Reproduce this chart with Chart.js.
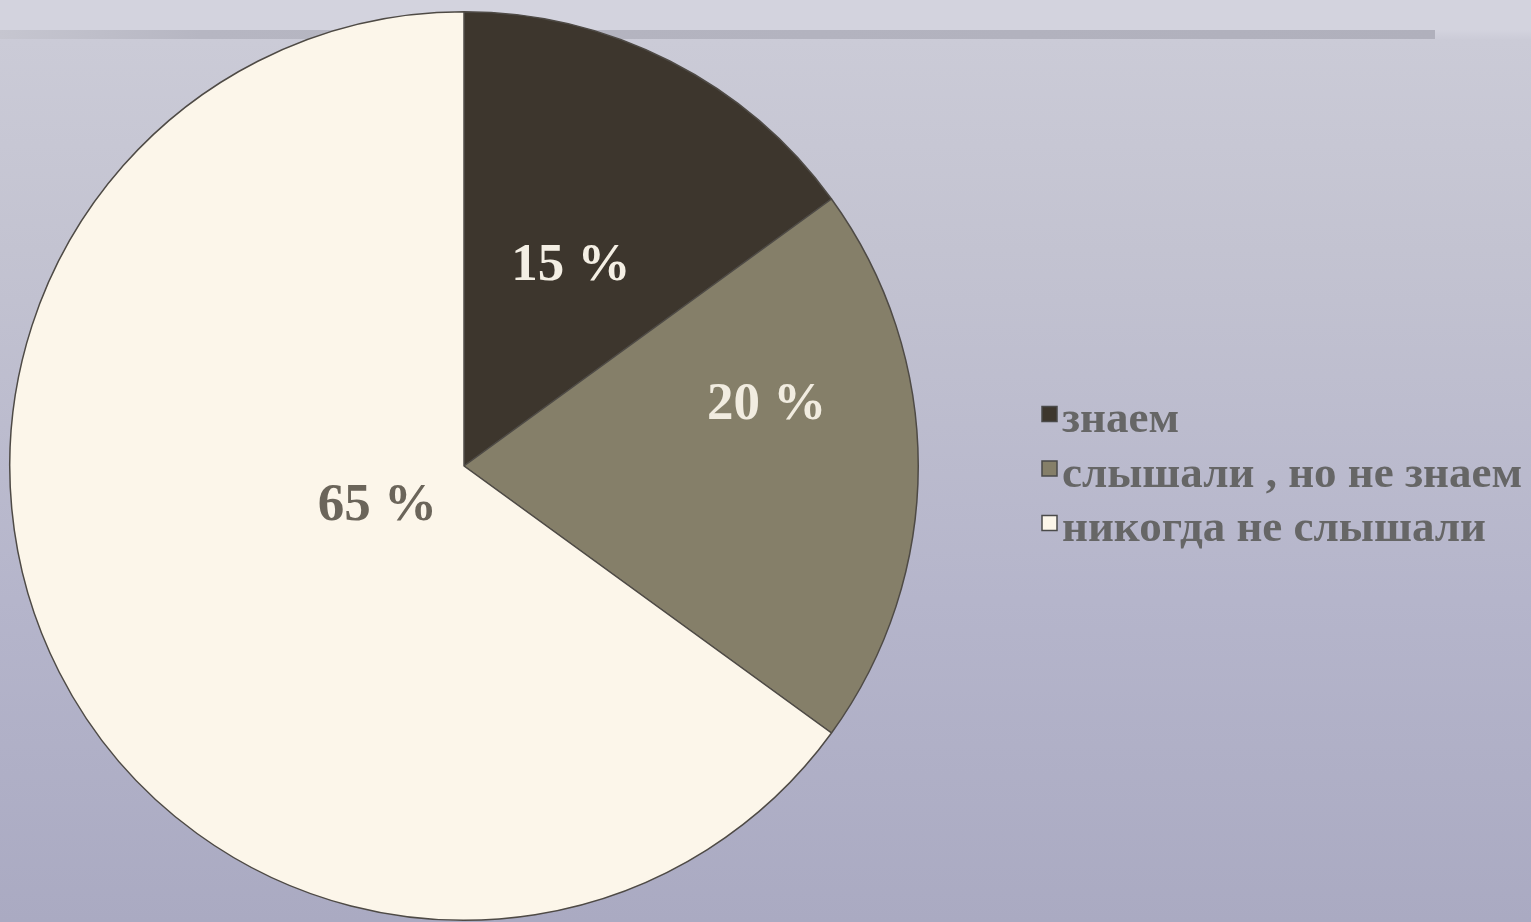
<!DOCTYPE html>
<html>
<head>
<meta charset="utf-8">
<script src="https://cdn.jsdelivr.net/npm/chart.js@4/dist/chart.umd.min.js"></script>
<style>
  html, body { margin: 0; padding: 0; }
  body {
    width: 1531px; height: 922px; overflow: hidden; position: relative;
    background: linear-gradient(to bottom, #d3d3de 0px, #d3d3de 30px, #cbcbd7 40px, #c3c3d1 250px, #b5b5cb 600px, #aaaac2 922px);
  }
  .band {
    position: absolute; left: 0; top: 30px; width: 1435px; height: 9px;
    background: linear-gradient(to right, #c6c6d0 0px, #b6b6c2 200px, #b0b0bc 1435px);
  }
  canvas { position: absolute; left: 0; top: 0; }
</style>
</head>
<body>
<div class="band"></div>
<canvas id="pie_chart" width="1531" height="922"></canvas>
<script>
// data
let categories = ["знаем", "слышали , но не знаем", "никогда не слышали"];
let shares = [15, 20, 65];
let label_texts = ["15 %", "20 %", "65 %"];

// look
let slice_colors = ["#3d362d", "#857f69", "#fcf6ea"];
let label_colors = ["#f4efe4", "#f1ece0", "#6b655a"];
// where each label sits inside its slice: angle fraction, radius fraction
let label_angle_pos = [0.52, 0.34, 0.51];
let label_radius_pos = [0.50, 0.68, 0.21];

const ctx = document.getElementById("pie_chart").getContext("2d");

const sliceLabels = {
    id: "sliceLabels",
    afterDatasetsDraw(chart) {
        let meta = chart.getDatasetMeta(0);
        let c = chart.ctx;
        c.save();
        c.font = "bold 53px 'Liberation Serif', 'Times New Roman', serif";
        c.textAlign = "center";
        c.textBaseline = "middle";
        meta.data.forEach((arc, i) => {
            let a = arc.startAngle + (arc.endAngle - arc.startAngle) * label_angle_pos[i];
            let r = arc.outerRadius * label_radius_pos[i];
            c.fillStyle = label_colors[i];
            c.fillText(label_texts[i], arc.x + Math.cos(a) * r, arc.y + Math.sin(a) * r + 1);
        });
        c.restore();
    }
};

const sideLegend = {
    id: "sideLegend",
    afterDraw(chart) {
        let c = chart.ctx;
        let left = 1042, top = 418, step = 54.5, box = 15;
        c.save();
        c.font = "bold 45px 'Liberation Serif', 'Times New Roman', serif";
        c.textBaseline = "alphabetic";
        c.textAlign = "left";
        categories.forEach((name, i) => {
            let y = top + i * step;
            c.fillStyle = slice_colors[i];
            c.fillRect(left, y - box / 2 - 4, box, box);
            c.strokeStyle = "#4a4a4a";
            c.lineWidth = 1.5;
            c.strokeRect(left, y - box / 2 - 4, box, box);
            c.fillStyle = "#666666";
            c.fillText(name, left + box + 5, y + 14);
        });
        c.restore();
    }
};

let my_chart = new Chart(ctx, {
    type: "pie",
    data: {
        labels: categories,
        datasets: [{
            data: shares,
            backgroundColor: slice_colors,
            borderColor: "#4e4a45",
            borderWidth: 1.5
        }]
    },
    options: {
        responsive: false,
        animation: false,
        layout: { padding: { left: 9, right: 612, top: 11, bottom: 1 } },
        plugins: {
            legend: { display: false },
            tooltip: { enabled: false }
        }
    },
    plugins: [sliceLabels, sideLegend]
});
</script>
</body>
</html>
